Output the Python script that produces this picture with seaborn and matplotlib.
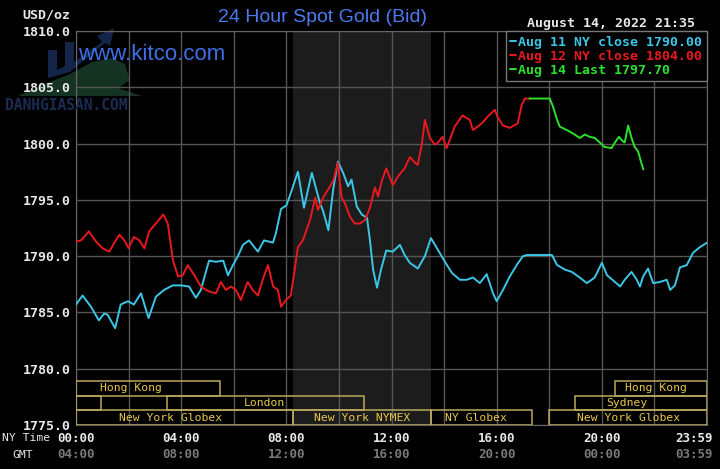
import matplotlib.pyplot as plt
from matplotlib.patches import Rectangle, Polygon
from matplotlib.transforms import ScaledTranslation
import pandas as pd
import seaborn as sns

# hours after 00:00 New York time, price in USD/oz
aug11_hours = [0.0, 0.25, 0.57, 0.87, 1.07, 1.2, 1.49, 1.7, 1.98, 2.2, 2.47, 2.76, 3.04, 3.35,
               3.68, 4.0, 4.3, 4.56, 4.75, 4.94, 5.06, 5.32, 5.6, 5.78, 5.97, 6.16, 6.35, 6.58,
               6.92, 7.15, 7.49, 7.6, 7.8, 8.0, 8.14, 8.44, 8.67, 8.97, 9.28, 9.4, 9.6, 9.78,
               9.96, 10.16, 10.35, 10.48, 10.68, 10.87, 11.07, 11.18, 11.3, 11.45, 11.6, 11.8,
               12.05, 12.32, 12.5, 12.7, 13.0, 13.27, 13.5, 13.73, 14.03, 14.3, 14.6, 14.86,
               15.1, 15.36, 15.62, 15.86, 16.0, 16.24, 16.5, 16.76, 17.0, 17.15, 18.1, 18.3,
               18.6, 18.86, 19.16, 19.43, 19.73, 20.0, 20.2, 20.4, 20.7, 20.87, 21.13, 21.33,
               21.45, 21.57, 21.76, 21.95, 22.2, 22.47, 22.6, 22.78, 22.97, 23.23, 23.47,
               23.73, 24.0]
aug11_price = [1785.7, 1786.5, 1785.5, 1784.3, 1784.9, 1784.8, 1783.6, 1785.7, 1786.0, 1785.7,
               1786.7, 1784.5, 1786.4, 1787.0, 1787.4, 1787.4, 1787.3, 1786.3, 1787.0, 1788.6,
               1789.6, 1789.5, 1789.6, 1788.3, 1789.2, 1790.0, 1791.0, 1791.4, 1790.4, 1791.4,
               1791.2, 1792.0, 1794.2, 1794.5, 1795.4, 1797.5, 1794.3, 1797.4, 1794.7, 1794.0,
               1792.3, 1795.9, 1798.4, 1797.4, 1796.2, 1796.8, 1794.4, 1793.7, 1793.4, 1791.4,
               1788.8, 1787.2, 1788.8, 1790.5, 1790.4, 1791.0, 1790.1, 1789.4, 1788.9, 1790.0,
               1791.6, 1790.7, 1789.5, 1788.5, 1787.9, 1787.9, 1788.1, 1787.6, 1788.4, 1786.7,
               1786.0, 1787.0, 1788.2, 1789.2, 1790.0, 1790.1, 1790.1, 1789.2, 1788.8, 1788.6,
               1788.1, 1787.6, 1788.1, 1789.4, 1788.3, 1787.9, 1787.3, 1787.9, 1788.6, 1787.9,
               1787.3, 1788.2, 1788.9, 1787.6, 1787.7, 1787.9, 1787.0, 1787.4, 1789.0, 1789.2,
               1790.3, 1790.8, 1791.2]

aug12_hours = [0.0, 0.19, 0.49, 0.76, 1.01, 1.27, 1.46, 1.65, 1.84, 2.0, 2.2, 2.41, 2.6, 2.78,
               3.04, 3.32, 3.49, 3.69, 3.88, 4.06, 4.25, 4.5, 4.75, 4.94, 5.13, 5.32, 5.51, 5.7,
               5.89, 6.08, 6.27, 6.53, 6.72, 6.92, 7.1, 7.3, 7.5, 7.68, 7.8, 7.98, 8.17, 8.3,
               8.44, 8.63, 8.9, 9.1, 9.2, 9.4, 9.66, 9.8, 9.96, 10.1, 10.23, 10.42, 10.6, 10.8,
               10.99, 11.18, 11.37, 11.49, 11.62, 11.8, 12.05, 12.25, 12.5, 12.7, 12.89, 13.0,
               13.15, 13.27, 13.46, 13.65, 13.77, 13.94, 14.1, 14.4, 14.7, 14.98, 15.1, 15.44,
               15.66, 15.93, 16.05, 16.24, 16.5, 16.8, 16.95, 17.07, 17.25]
aug12_price = [1791.3, 1791.4, 1792.2, 1791.3, 1790.7, 1790.4, 1791.2, 1791.9, 1791.4, 1790.7,
               1791.7, 1791.4, 1790.7, 1792.2, 1792.9, 1793.7, 1792.9, 1789.6, 1788.2, 1788.3,
               1789.2, 1788.3, 1787.3, 1787.0, 1786.8, 1786.7, 1787.7, 1787.0, 1787.3, 1787.0,
               1786.1, 1787.7, 1787.0, 1786.5, 1787.9, 1789.2, 1787.3, 1787.0, 1785.5, 1786.1,
               1786.5, 1788.5, 1790.8, 1791.4, 1793.2, 1795.2, 1794.1, 1795.2, 1796.2, 1796.8,
               1798.3, 1795.2, 1794.7, 1793.5, 1792.9, 1792.9, 1793.2, 1794.3, 1796.1, 1795.3,
               1796.6, 1797.8, 1796.3, 1797.1, 1797.8, 1798.8, 1798.3, 1798.1, 1799.9, 1802.1,
               1800.5, 1799.9, 1800.1, 1800.6, 1799.6, 1801.5, 1802.5, 1802.1, 1801.2, 1801.8,
               1802.4, 1803.0, 1802.3, 1801.6, 1801.4, 1801.8, 1803.4, 1804.0, 1804.0]

aug14_hours = [17.25, 18.02, 18.14, 18.3, 18.4, 18.67, 18.9, 19.16, 19.35, 19.54, 19.73, 19.92,
               20.1, 20.37, 20.5, 20.65, 20.8, 20.87, 21.0, 21.13, 21.25, 21.38, 21.5, 21.58]
aug14_price = [1804.0, 1804.0, 1803.3, 1802.1, 1801.5, 1801.2, 1800.9, 1800.5, 1800.8, 1800.6,
               1800.5, 1800.1, 1799.7, 1799.6, 1800.1, 1800.6, 1800.2, 1800.1, 1801.6, 1800.5,
               1799.7, 1799.3, 1798.3, 1797.7]

series_names = ["Aug 11 NY close 1790.00", "Aug 12 NY close 1804.00", "Aug 14 Last 1797.70"]
series_colors = ["#3cc6e6", "#e8191e", "#2ee02e"]

ny_tick_hours = [0, 4, 8, 12, 16, 20, 24]
ny_tick_labels = ["00:00", "04:00", "08:00", "12:00", "16:00", "20:00", "23:59"]
gmt_tick_labels = ["04:00", "08:00", "12:00", "16:00", "20:00", "00:00", "03:59"]
grid_hours = [2, 6, 10, 14, 18, 22]
price_ticks = [1775, 1780, 1785, 1790, 1795, 1800, 1805, 1810]

nymex_start, nymex_end = 8.25, 13.5

# trading session bars at the bottom of the chart
session_labels = ["Hong Kong", "Hong Kong", "", "London", "Sydney",
                  "New York Globex", "New York NYMEX", "NY Globex", "New York Globex"]
session_row = [0, 0, 1, 1, 1, 2, 2, 2, 2]
session_start = [0.0, 20.5, 0.0, 3.46, 18.97, 0.0, 8.25, 13.5, 18.0]
session_end = [5.47, 24.0, 0.95, 10.95, 24.0, 8.25, 13.5, 17.33, 24.0]
session_text_at = [2.1, 22.05, 0.0, 7.15, 20.95, 3.6, 10.9, 15.2, 21.0]
row_tops = [1778.9, 1777.6, 1776.3]
row_height = 1.3

frames = []
for name, hrs, prc in zip(series_names, [aug11_hours, aug12_hours, aug14_hours],
                          [aug11_price, aug12_price, aug14_price]):
    frames.append(pd.DataFrame({"hour": hrs, "price": prc, "series": name}))
df = pd.concat(frames, ignore_index=True)

sns.set_style("dark", {"axes.facecolor": "black", "figure.facecolor": "black",
                       "axes.edgecolor": "#666666", "grid.color": "#555555"})
plt.rcParams["font.family"] = ["DejaVu Sans Mono", "DejaVu Sans"]

W, H = 720, 469
fig, ax = plt.subplots(figsize=(7.2, 4.69), dpi=100, facecolor="black")
fig.subplots_adjust(left=76 / W, right=707 / W, top=1 - 31 / H, bottom=44 / H)
ax.set_facecolor("none")
ax.set_zorder(2)


def px(x, y):
    return (x / W, 1 - y / H)


# faint watermark logo, kept under the axes so labels and grid stay on top
for pts, col in [
    ([(18, 96), (45, 84), (70, 74), (92, 62), (112, 58), (125, 64), (130, 80),
      (118, 88), (142, 96)], "#143322"),
    ([(48, 78), (48, 50), (57, 50), (57, 70), (65, 66), (65, 42), (74, 42), (74, 62),
      (102, 42), (97, 36), (114, 28), (110, 46), (105, 43), (70, 72)], "#13264a"),
]:
    fig.add_artist(Polygon([px(*p) for p in pts], closed=True, facecolor=col,
                           edgecolor="none", transform=fig.transFigure, zorder=1))

ax.axvspan(nymex_start, nymex_end, color="#1c1c1c", lw=0, zorder=0)

sns.lineplot(data=df, x="hour", y="price", hue="series",
             palette=dict(zip(series_names, series_colors)),
             sort=False, estimator=None, lw=1.4, ax=ax, zorder=3)

ax.set_xlim(0, 24)
ax.set_ylim(1775, 1810)
ax.set_xticks(ny_tick_hours)
ax.set_xticklabels(ny_tick_labels)
ax.set_xticks(grid_hours, minor=True)
ax.set_yticks(price_ticks)
ax.set_yticklabels([f"{v:.1f}" for v in price_ticks])
ax.grid(which="both", color="#555555", lw=1.0, zorder=1)
ax.set_axisbelow(True)
ax.tick_params(axis="both", which="both", length=0, colors="#e8e8e8")
ax.tick_params(axis="x", pad=5, labelsize=9)
ax.tick_params(axis="y", pad=4, labelsize=9.5)
for lab in ax.get_xticklabels() + ax.get_yticklabels():
    lab.set_fontweight("bold")
shift = ScaledTranslation(6 / 100, 0, fig.dpi_scale_trans)
last = ax.get_xticklabels()[-1]
last.set_horizontalalignment("right")
last.set_transform(last.get_transform() + shift)
ax.set_xlabel("")
ax.set_ylabel("")
for sp in ax.spines.values():
    sp.set_color("#666666")

for h, lab in zip(ny_tick_hours, gmt_tick_labels):
    t = ax.text(h, -0.076, lab, transform=ax.get_xaxis_transform(), ha="center",
                va="center", color="#7a7a7a", fontsize=9, fontweight="bold")
    if h == ny_tick_hours[-1]:
        t.set_horizontalalignment("right")
        t.set_transform(t.get_transform() + shift)

for lab, row, s, e, pos in zip(session_labels, session_row, session_start, session_end,
                               session_text_at):
    bottom = row_tops[row] - row_height
    ax.add_patch(Rectangle((s, bottom), e - s, row_height, fill=False,
                           edgecolor="#bba95c", lw=1.1, zorder=4))
    if lab:
        ax.text(pos, bottom + row_height / 2, lab, ha="center", va="center",
                color="#e6c64a", fontsize=8.2, zorder=4)

handles, labels = ax.get_legend_handles_labels()
leg = ax.legend(handles, labels, loc="upper right", bbox_to_anchor=(1.0, 1.0),
                borderaxespad=0, frameon=True, fancybox=False, facecolor="black",
                edgecolor="#777777", framealpha=1, handlelength=0.45, handletextpad=0.15,
                labelspacing=0.08, borderpad=0.35,
                prop={"family": "DejaVu Sans Mono", "weight": "bold", "size": 9.5})
for txt, col in zip(leg.get_texts(), series_colors):
    txt.set_color(col)
leg.set_zorder(6)

fig.text(*px(22, 15), "USD/oz", color="#e8e8e8", fontsize=9.5,
         fontweight="bold", va="center")
fig.text(*px(322, 17), "24 Hour Spot Gold (Bid)", color="#4b7bef",
         fontsize=14, family="Liberation Sans", ha="center", va="center")
fig.text(*px(695, 23), "August 14, 2022 21:35", color="#e8e8e8", fontsize=9.5,
         fontweight="bold", ha="right", va="center")
fig.text(*px(78, 55), "www.kitco.com", color="#3f6fe6", fontsize=16,
         family="Liberation Sans", va="center", zorder=7)
fig.text(*px(5, 105), "DANHGIASAN.COM", color="#1b2c52", fontsize=10.5,
         fontweight="bold", va="center", zorder=7)
fig.text(*px(2, 438), "NY Time", color="#e8e8e8", fontsize=8.2, va="center")
fig.text(*px(12, 455), "GMT", color="#e8e8e8", fontsize=8.2, va="center")

fig.savefig("out.png", dpi=100, facecolor="black")
